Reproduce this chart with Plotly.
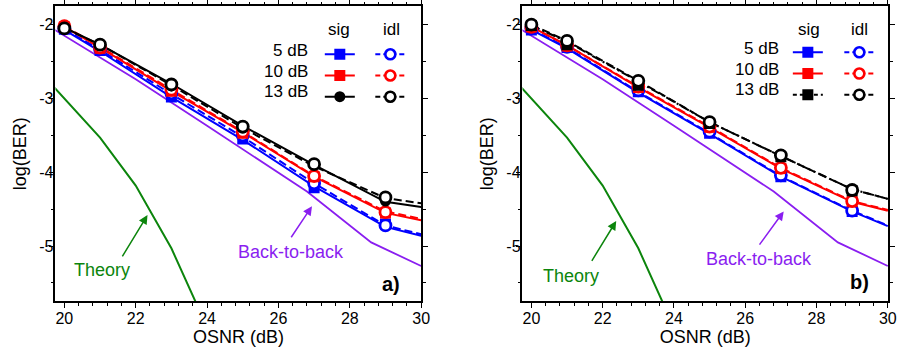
import plotly.graph_objects as go

# ---------------- data ----------------
osnr = [20, 21, 23, 25, 27, 29]
fit_x = [20, 21, 23, 25, 27, 29, 30]

theory_x = [19, 20, 21, 22, 23, 24]
theory_y = [-2.47, -3.0, -3.53, -4.18, -5.03, -6.1]

b2b_x = [19.7, 22, 24, 26.8, 28.6, 30]
b2b_y = [-2.06, -2.74, -3.37, -4.26, -4.95, -5.27]

# panel a) measured points
a_sig_5 = [-2.06, -2.35, -2.98, -3.55, -4.21, -4.70]
a_idl_5 = [-2.05, -2.33, -2.93, -3.50, -4.15, -4.72]
a_sig_10 = [-2.03, -2.32, -2.90, -3.47, -4.06, -4.55]
a_idl_10 = [-2.02, -2.31, -2.88, -3.45, -4.05, -4.54]
a_sig_13 = [-2.05, -2.28, -2.83, -3.40, -3.90, -4.39]
a_idl_13 = [-2.05, -2.27, -2.81, -3.38, -3.89, -4.34]
# panel a) fitted lines
a_fit_sig_5 = [-2.07, -2.36, -2.98, -3.56, -4.19, -4.74, -4.86]
a_fit_idl_5 = [-2.06, -2.34, -2.94, -3.52, -4.15, -4.72, -4.84]
a_fit_sig_10 = [-2.03, -2.31, -2.90, -3.46, -4.06, -4.55, -4.65]
a_fit_idl_10 = [-2.02, -2.30, -2.88, -3.45, -4.05, -4.53, -4.63]
a_fit_sig_13 = [-2.04, -2.27, -2.80, -3.37, -3.90, -4.40, -4.47]
a_fit_idl_13 = [-2.05, -2.27, -2.82, -3.40, -3.92, -4.35, -4.42]

# panel b) measured points
b_sig_5 = [-2.07, -2.31, -2.91, -3.47, -4.06, -4.53]
b_idl_5 = [-2.05, -2.30, -2.89, -3.45, -4.04, -4.52]
b_sig_10 = [-2.03, -2.29, -2.85, -3.39, -3.95, -4.40]
b_idl_10 = [-2.03, -2.28, -2.84, -3.38, -3.94, -4.39]
b_sig_13 = [-2.01, -2.27, -2.82, -3.34, -3.79, -4.25]
b_idl_13 = [-2.00, -2.22, -2.76, -3.32, -3.77, -4.24]
# panel b) fitted lines
b_fit_sig_5 = [-2.07, -2.32, -2.92, -3.48, -4.06, -4.53, -4.73]
b_fit_idl_5 = [-2.06, -2.31, -2.91, -3.47, -4.05, -4.52, -4.72]
b_fit_sig_10 = [-2.03, -2.28, -2.85, -3.39, -3.95, -4.40, -4.52]
b_fit_idl_10 = [-2.03, -2.28, -2.84, -3.38, -3.94, -4.39, -4.51]
b_fit_sig_13 = [-2.01, -2.23, -2.77, -3.32, -3.78, -4.23, -4.36]
b_fit_idl_13 = [-2.00, -2.22, -2.76, -3.32, -3.78, -4.23, -4.36]

power_labels = ["5 dB", "10 dB", "13 dB"]
col_labels = ["sig", "idl"]
y_tickvals = [-2, -3, -4, -5]
y_ticktext = ["-2", "-3", "-4", "-5"]

BLUE, RED, BLACK = "#0000FF", "#FF0000", "#000000"
GREEN, PURPLE = "#0C850C", "#8A1EF0"
FONT = "Liberation Sans, Arial, sans-serif"

fig = go.Figure()

panels = [
    dict(xa="x", ya="y", sig=[a_sig_5, a_sig_10, a_sig_13], idl=[a_idl_5, a_idl_10, a_idl_13],
         fs=[a_fit_sig_5, a_fit_sig_10, a_fit_sig_13], fi=[a_fit_idl_5, a_fit_idl_10, a_fit_idl_13],
         sig13sym="circle", sig13dash="solid", idl13dash="8px,4px", leg=("legend", "legend2")),
    dict(xa="x2", ya="y2", sig=[b_sig_5, b_sig_10, b_sig_13], idl=[b_idl_5, b_idl_10, b_idl_13],
         fs=[b_fit_sig_5, b_fit_sig_10, b_fit_sig_13], fi=[b_fit_idl_5, b_fit_idl_10, b_fit_idl_13],
         sig13sym="square", sig13dash="9px,3px,2px,3px", idl13dash="8px,4px", leg=("legend3", "legend4")),
]
colors = [BLUE, RED, BLACK]

for p in panels:
    xa, ya = p["xa"], p["ya"]
    fig.add_trace(go.Scatter(x=theory_x, y=theory_y, mode="lines", line=dict(color=GREEN, width=2),
                             xaxis=xa, yaxis=ya, showlegend=False))
    fig.add_trace(go.Scatter(x=b2b_x, y=b2b_y, mode="lines", line=dict(color=PURPLE, width=1.8),
                             xaxis=xa, yaxis=ya, showlegend=False))
    for i, c in enumerate(colors):
        sdash = p["sig13dash"] if i == 2 else "solid"
        idash = p["idl13dash"] if i == 2 else "8px,4px"
        fig.add_trace(go.Scatter(x=fit_x, y=p["fs"][i], mode="lines", line=dict(color=c, width=2, dash=sdash),
                                 xaxis=xa, yaxis=ya, showlegend=False))
        fig.add_trace(go.Scatter(x=fit_x, y=p["fi"][i], mode="lines", line=dict(color=c, width=2, dash=idash),
                                 xaxis=xa, yaxis=ya, showlegend=False))
    for i, c in enumerate(colors):
        ssym = p["sig13sym"] if i == 2 else "square"
        fig.add_trace(go.Scatter(x=osnr, y=p["sig"][i], mode="markers",
                                 marker=dict(symbol=ssym, size=11, color=c, line=dict(width=0)),
                                 xaxis=xa, yaxis=ya, showlegend=False))
        fig.add_trace(go.Scatter(x=osnr, y=p["idl"][i], mode="markers",
                                 marker=dict(symbol="circle", size=11, color="white", line=dict(color=c, width=2.8)),
                                 xaxis=xa, yaxis=ya, showlegend=False))
        # legend keys
        fig.add_trace(go.Scatter(x=[None], y=[None], mode="lines+markers", name=" ",
                                 line=dict(color=c, width=2, dash="solid" if (i < 2 or xa == "x") else "4px,3px"),
                                 marker=dict(symbol=ssym, size=11, color=c, line=dict(width=0)),
                                 xaxis=xa, yaxis=ya, legend=p["leg"][0], showlegend=True))
        fig.add_trace(go.Scatter(x=[None], y=[None], mode="lines+markers", name=" ",
                                 line=dict(color=c, width=2, dash="5px,3px"),
                                 marker=dict(symbol="circle", size=10, color="white", line=dict(color=c, width=2.6)),
                                 xaxis=xa, yaxis=ya, legend=p["leg"][1], showlegend=True))

W, H = 911, 351
dom_a = [56 / W, 425.7 / W]
dom_b = [527.7 / W, 897 / W]
dom_y = [50 / H, 347.7 / H]

def xax(domain, anchor):
    return dict(domain=domain, anchor=anchor, range=[19.75, 30.01], dtick=2, tick0=20,
                ticks="outside", ticklen=5, tickwidth=1.2, tickcolor="black",
                minor=dict(dtick=0.4, tick0=20, ticks="outside", ticklen=3, tickwidth=1, tickcolor="black"),
                showline=True, linecolor="black", linewidth=1.5, mirror="allticks",
                showgrid=False, zeroline=False, ticklabelstandoff=-3,
                tickfont=dict(family=FONT, size=16, color="black"),
                title=dict(text="OSNR (dB)", font=dict(family=FONT, size=18, color="black"), standoff=0))

def yax(anchor):
    return dict(domain=dom_y, anchor=anchor, range=[-5.75, -1.75],
                tickmode="array", tickvals=y_tickvals, ticktext=y_ticktext,
                ticks="outside", ticklen=5, tickwidth=1.2, tickcolor="black",
                minor=dict(dtick=0.5, tick0=-2, ticks="outside", ticklen=3, tickwidth=1, tickcolor="black"),
                showline=True, linecolor="black", linewidth=1.5, mirror="allticks",
                showgrid=False, zeroline=False, ticklabelstandoff=-8,
                tickfont=dict(family=FONT, size=16, color="black"),
                title=dict(text="log(BER)", font=dict(family=FONT, size=18, color="black"), standoff=8))

def legend(xpx, ypx):
    return dict(x=xpx / W, y=1 - ypx / H, xanchor="left", yanchor="top", bgcolor="rgba(0,0,0,0)",
                borderwidth=0, font=dict(family=FONT, size=14), tracegroupgap=0, itemwidth=30)

annotations = []
def txt(x, y, s, color, size=18, xref="x", yref="y", xanchor="center", bold=False):
    annotations.append(dict(x=x, y=y, xref=xref, yref=yref, text=("<b>%s</b>" % s) if bold else s,
                            showarrow=False, xanchor=xanchor, yanchor="middle",
                            font=dict(family=FONT, size=size, color=color)))

def arrow(x, y, ax, ay, color, xref, yref):
    annotations.append(dict(x=x, y=y, ax=ax, ay=ay, xref=xref, yref=yref, axref=xref, ayref=yref,
                            text="", showarrow=True, arrowhead=2, arrowsize=1.2, arrowwidth=1.5,
                            arrowcolor=color, standoff=0, startstandoff=0))

# panel a annotations
txt(21.05, -5.33, "Theory", GREEN)
arrow(22.33, -4.58, 21.6, -5.16, GREEN, "x", "y")
txt(26.34, -5.08, "Back-to-back", PURPLE)
arrow(26.94, -4.46, 26.33, -4.90, PURPLE, "x", "y")
txt(29.15, -5.51, "a)", "black", size=20, bold=True)
# panel b annotations
txt(21.12, -5.41, "Theory", GREEN, xref="x2", yref="y2")
arrow(22.38, -4.66, 21.67, -5.22, GREEN, "x2", "y2")
txt(26.39, -5.17, "Back-to-back", PURPLE, xref="x2", yref="y2")
arrow(27.08, -4.53, 26.37, -5.0, PURPLE, "x2", "y2")
txt(29.2, -5.48, "b)", "black", size=20, bold=True, xref="x2", yref="y2")

# legend headers / labels
for (sx, ix, lx, rows) in [(342, 395, 313, [47.7, 69, 89.3]), (816.7, 868.3, 788.3, [45.7, 66.7, 87.3])]:
    txt(sx / W, 1 - 27 / H, col_labels[0], "black", size=17, xref="paper", yref="paper")
    txt(ix / W, 1 - 27 / H, col_labels[1], "black", size=17, xref="paper", yref="paper")
    for lab, r in zip(power_labels, rows):
        txt(lx / W, 1 - r / H, lab, "black", size=17, xref="paper", yref="paper", xanchor="right")

fig.update_layout(
    width=W, height=H, margin=dict(l=0, r=0, t=0, b=0),
    paper_bgcolor="white", plot_bgcolor="white",
    xaxis=xax(dom_a, "y"), yaxis=yax("x"),
    xaxis2=xax(dom_b, "y2"), yaxis2=yax("x2"),
    legend=legend(323, 36), legend2=legend(374, 36),
    legend3=legend(795.7, 34), legend4=legend(847.7, 34),
    annotations=annotations,
)

fig.write_html("out.html")
